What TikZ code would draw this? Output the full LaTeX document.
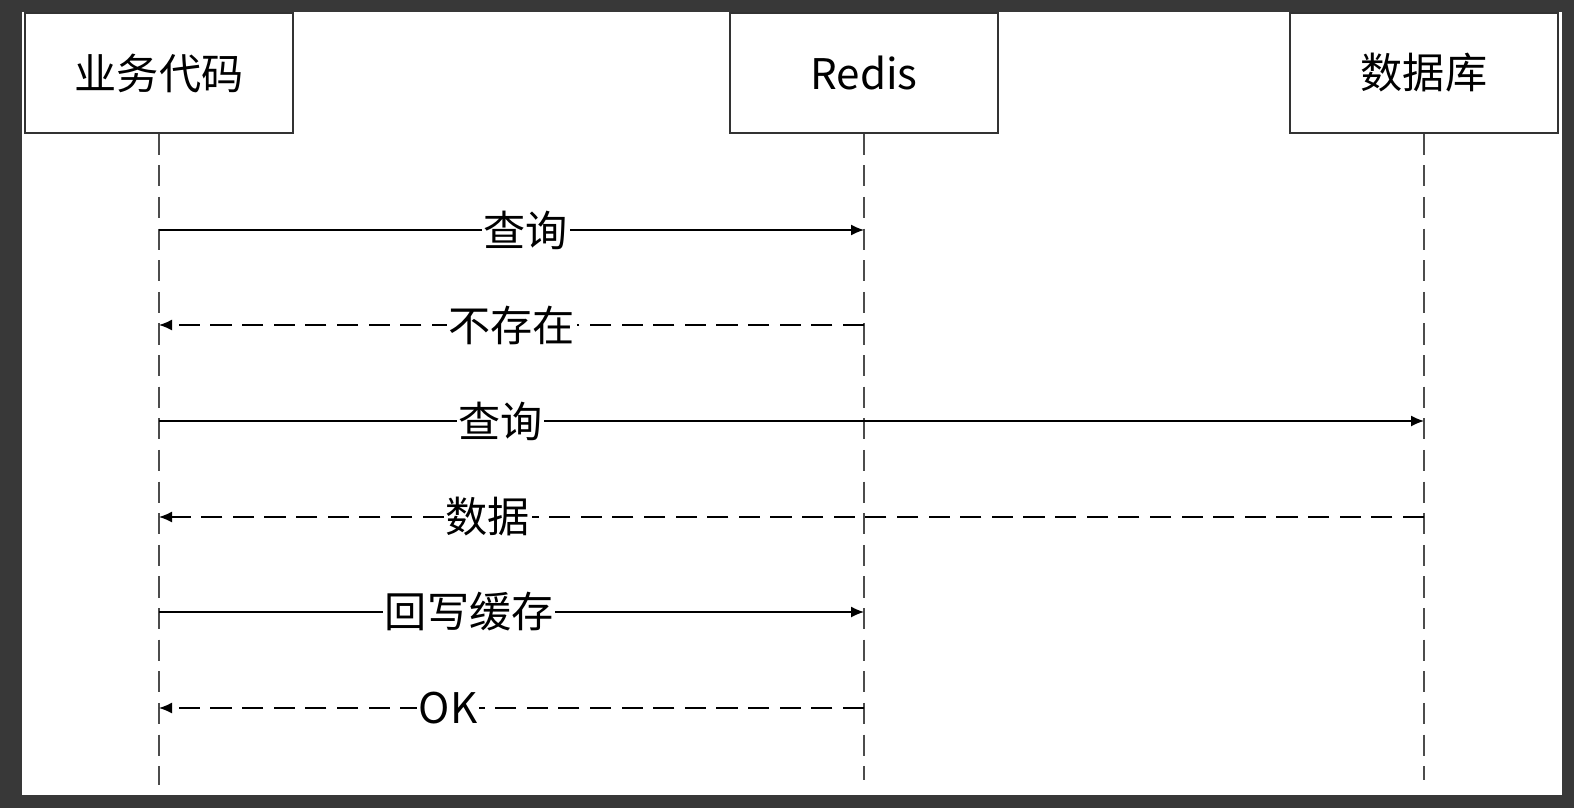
\documentclass[tikz,border=0pt]{standalone}
\usepackage{fontspec}
\setmainfont{Noto Sans CJK SC}
\usetikzlibrary{positioning}
\usetikzlibrary{arrows.meta}
\tikzset{>={Latex[width=2.2mm,length=2.6mm]}}

\begin{document}
\begin{tikzpicture}[x=0.02cm, y=-0.02cm, actor/.style={draw=black!80, fill=white, thick, minimum width=5.36cm, minimum height=2.4cm, font=\fontsize{24}{28}\selectfont}, life/.style={dashed, dash pattern=on 12pt off 6pt, black!70, thick}, call/.style={->, thick}, reply/.style={->, thick, dash pattern=on 12pt off 6pt}, msg/.style={fill=white, inner sep=1pt, font=\fontsize{24}{28}\selectfont}]

    %Frame
    \fill[black!78] (0,0) rectangle (1574,808);
    \fill[white] (22,12) rectangle (1562,795);

    %Nodes
    \node[actor](code) at (159,73){业务代码};
    \node[actor](redis) at (864,73){Redis};
    \node[actor](db) at (1424,73){数据库};
    \coordinate (code_end) at (159,785);
    \coordinate (redis_end) at (864,780);
    \coordinate (db_end) at (1424,780);

    %Lifelines
    \draw[life] (code.south) -- (code_end);
    \draw[life] (redis.south) -- (redis_end);
    \draw[life] (db.south) -- (db_end);

    %Messages
    \draw[call] (code.south |- 0,230) -- node[msg, pos=0.52]{查询} (redis.south |- 0,230);
    \draw[reply] (redis.south |- 0,325) -- node[msg, pos=0.5]{不存在} (code.south |- 0,325);
    \draw[call] (code.south |- 0,421) -- node[msg, pos=0.27]{查询} (db.south |- 0,421);
    \draw[reply] (db.south |- 0,517) -- node[msg, pos=0.74]{数据} (code.south |- 0,517);
    \draw[call] (code.south |- 0,612) -- node[msg, pos=0.44]{回写缓存} (redis.south |- 0,612);
    \draw[reply] (redis.south |- 0,708) -- node[msg, pos=0.59]{OK} (code.south |- 0,708);

\end{tikzpicture}
\end{document}
